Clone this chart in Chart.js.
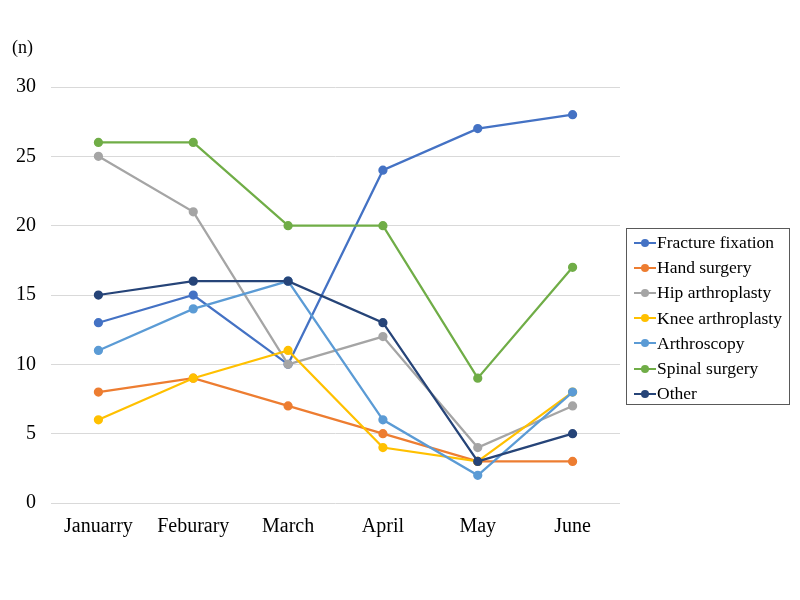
<!DOCTYPE html>
<html>
<head>
<meta charset="utf-8">
<script src="https://cdn.jsdelivr.net/npm/chart.js@4"></script>
<style>
  body { margin: 0; background: #fff; }
  #wrap { position: relative; width: 800px; height: 600px; }
  #unit { position: absolute; left: 12px; top: 37px; font: 18px "Liberation Serif", "Times New Roman", serif; color: #000; }
  #legend { position: absolute; left: 626px; top: 228px; width: 164px; height: 177px; border: 1px solid #595959;
            box-sizing: border-box; padding: 1px 0 0 7px; font: 17.5px "Liberation Serif", "Times New Roman", serif; color: #000; }
  #legend .item { height: 25.2px; display: flex; align-items: center; white-space: nowrap; }
  #legend .mark { position: relative; width: 22px; height: 10px; margin-right: 1px; }
  #legend .mark i { position: absolute; left: 0; right: 0; top: 4px; height: 2px; }
  #legend .mark b { position: absolute; left: 7px; top: 1px; width: 8px; height: 8px; border-radius: 50%; }
</style>
</head>
<body>
<div id="wrap">
  <canvas id="lineChart" width="800" height="600"></canvas>
  <div id="unit">(n)</div>
  <div id="legend"></div>
</div>
<script>
// months as labelled in the figure
const months = ["Januarry", "Feburary", "March", "April", "May", "June"];
const yTicks = [0, 5, 10, 15, 20, 25, 30];

const fractureFixation = [13, 15, 10, 24, 27, 28];
const handSurgery = [8, 9, 7, 5, 3, 3];
const hipArthroplasty = [25, 21, 10, 12, 4, 7];
const kneeArthroplasty = [6, 9, 11, 4, 3, 8];
const arthroscopy = [11, 14, 16, 6, 2, 8];
const spinalSurgery = [26, 26, 20, 20, 9, 17];
const other = [15, 16, 16, 13, 3, 5];

const seriesNames = ["Fracture fixation", "Hand surgery", "Hip arthroplasty", "Knee arthroplasty", "Arthroscopy", "Spinal surgery", "Other"];
const seriesData = [fractureFixation, handSurgery, hipArthroplasty, kneeArthroplasty, arthroscopy, spinalSurgery, other];
const seriesColors = ["#4472C4", "#ED7D31", "#A5A5A5", "#FFC000", "#5B9BD5", "#70AD47", "#264478"];

const font = "'Liberation Serif', 'Times New Roman', serif";

// later series sit on top, like the original
const datasets = seriesNames.map((name, i) => ({
    label: name,
    data: seriesData[i],
    borderColor: seriesColors[i],
    backgroundColor: seriesColors[i],
    borderWidth: 2.25,
    pointRadius: 3.5,
    pointHoverRadius: 3.5,
    tension: 0,
    order: seriesNames.length - i,
}));

const chart = new Chart(document.getElementById("lineChart"), {
    type: "line",
    data: { labels: months, datasets: datasets },
    options: {
        responsive: false,
        animation: false,
        layout: { padding: { left: 0, right: 180, top: 87, bottom: 0 } },
        plugins: { legend: { display: false }, tooltip: { enabled: false } },
        scales: {
            x: {
                offset: true,
                grid: { display: false, drawTicks: false },
                border: { display: false },
                ticks: { color: "#000", font: { family: font, size: 20 }, padding: 12 },
                afterFit: (scale) => { scale.height = 97; },
            },
            y: {
                min: 0,
                max: 30,
                afterBuildTicks: (scale) => { scale.ticks = yTicks.map((v) => ({ value: v })); },
                grid: { color: "#d9d9d9", drawTicks: false, lineWidth: 1 },
                border: { display: false },
                ticks: { color: "#000", font: { family: font, size: 20 }, padding: 15 },
                afterFit: (scale) => { scale.width = 51; },
            },
        },
    },
});

// legend built from the datasets
const legendEl = document.getElementById("legend");
seriesNames.forEach((name, i) => {
    const row = document.createElement("div");
    row.className = "item";
    row.innerHTML = '<span class="mark"><i style="background:' + seriesColors[i] + '"></i><b style="background:' +
        seriesColors[i] + '"></b></span>' + name;
    legendEl.appendChild(row);
});
</script>
</body>
</html>
